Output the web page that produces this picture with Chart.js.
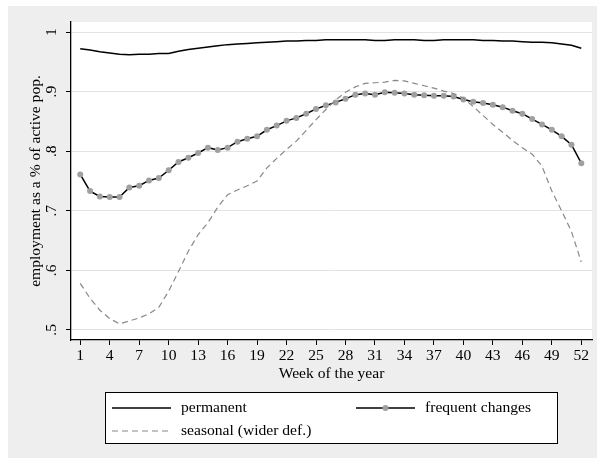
<!DOCTYPE html>
<html>
<head>
<meta charset="utf-8">
<script src="https://cdn.jsdelivr.net/npm/chart.js@4.4.0/dist/chart.umd.min.js"></script>
<style>
html, body { margin: 0; padding: 0; background: #fff; }
#wrap { width: 597px; height: 459px; }
</style>
</head>
<body>
<div id="wrap"><canvas id="chartEmployment"></canvas></div>
<script>
const weeks = [1, 2, 3, 4, 5, 6, 7, 8, 9, 10, 11, 12, 13, 14, 15, 16, 17, 18, 19, 20, 21, 22, 23, 24, 25, 26,
    27, 28, 29, 30, 31, 32, 33, 34, 35, 36, 37, 38, 39, 40, 41, 42, 43, 44, 45, 46, 47, 48, 49, 50, 51, 52];

const permanent = [0.972, 0.970, 0.967, 0.965, 0.963, 0.962, 0.963, 0.963, 0.964, 0.964, 0.968, 0.971, 0.973,
    0.975, 0.977, 0.979, 0.980, 0.981, 0.982, 0.983, 0.984, 0.985, 0.985, 0.986, 0.986, 0.987,
    0.987, 0.987, 0.987, 0.987, 0.986, 0.986, 0.987, 0.987, 0.987, 0.986, 0.986, 0.987, 0.987,
    0.987, 0.987, 0.986, 0.986, 0.985, 0.985, 0.984, 0.983, 0.983, 0.982, 0.980, 0.978, 0.973];

const frequentChanges = [0.761, 0.733, 0.724, 0.723, 0.723, 0.739, 0.742, 0.751, 0.755, 0.768, 0.782, 0.789, 0.797,
    0.806, 0.802, 0.806, 0.816, 0.821, 0.825, 0.836, 0.843, 0.851, 0.856, 0.863, 0.871, 0.877,
    0.882, 0.888, 0.895, 0.897, 0.895, 0.899, 0.898, 0.897, 0.895, 0.894, 0.893, 0.893, 0.892,
    0.887, 0.883, 0.881, 0.878, 0.874, 0.868, 0.863, 0.854, 0.845, 0.836, 0.825, 0.811, 0.780];

const seasonal = [0.578, 0.553, 0.533, 0.519, 0.510, 0.515, 0.520, 0.527, 0.538, 0.565, 0.598, 0.632, 0.660,
    0.680, 0.706, 0.727, 0.735, 0.742, 0.750, 0.772, 0.788, 0.803, 0.817, 0.835, 0.853, 0.870,
    0.886, 0.899, 0.908, 0.914, 0.915, 0.916, 0.919, 0.918, 0.914, 0.910, 0.906, 0.901, 0.897,
    0.889, 0.875, 0.860, 0.845, 0.832, 0.818, 0.806, 0.795, 0.775, 0.733, 0.700, 0.665, 0.614];

const xTicks = [1, 4, 7, 10, 13, 16, 19, 22, 25, 28, 31, 34, 37, 40, 43, 46, 49, 52];
const yTicks = [0.5, 0.6, 0.7, 0.8, 0.9, 1];
const yTickLabels = ['.5', '.6', '.7', '.8', '.9', '1'];

const FONT = '"Liberation Serif", "Times New Roman", serif';
const FONT_SIZE = 15.6;

Chart.defaults.font.family = FONT;
Chart.defaults.font.size = FONT_SIZE;
Chart.defaults.color = '#000';

function toPoints(values) {
    return weeks.map(function (w, i) {
        return { x: w, y: values[i] };
    });
}

// grey page frame and white plot region
const backdrop = {
    id: 'backdrop',
    beforeDraw: function (chart) {
        const ctx = chart.ctx;
        const a = chart.chartArea;
        ctx.save();
        ctx.fillStyle = '#fff';
        ctx.fillRect(0, 0, chart.width, chart.height);
        ctx.fillStyle = '#eeeeee';
        ctx.fillRect(8, 6, chart.width - 8, 452);
        ctx.fillStyle = '#fff';
        ctx.fillRect(a.left, a.top, a.right - a.left, a.bottom - a.top);
        ctx.restore();
    }
};

// boxed two-column legend under the axis
const boxLegend = {
    id: 'boxLegend',
    afterDraw: function (chart) {
        const ctx = chart.ctx;
        ctx.save();
        ctx.fillStyle = '#fff';
        ctx.fillRect(105, 392, 453, 52);
        ctx.strokeStyle = '#000';
        ctx.lineWidth = 1;
        ctx.strokeRect(105.5, 392.5, 452, 51);

        ctx.font = FONT_SIZE + 'px ' + FONT;
        ctx.fillStyle = '#000';
        ctx.textBaseline = 'middle';
        ctx.textAlign = 'left';

        // permanent
        ctx.strokeStyle = '#000';
        ctx.lineWidth = 1.5;
        ctx.beginPath();
        ctx.moveTo(112, 408);
        ctx.lineTo(171, 408);
        ctx.stroke();
        ctx.fillText('permanent', 181, 408);

        // frequent changes
        ctx.beginPath();
        ctx.moveTo(356, 408);
        ctx.lineTo(415, 408);
        ctx.stroke();
        ctx.fillStyle = '#a0a0a0';
        ctx.beginPath();
        ctx.arc(385.5, 408, 3, 0, Math.PI * 2);
        ctx.fill();
        ctx.fillStyle = '#000';
        ctx.fillText('frequent changes', 425, 408);

        // seasonal
        ctx.strokeStyle = '#888';
        ctx.lineWidth = 1.2;
        ctx.setLineDash([6, 4]);
        ctx.beginPath();
        ctx.moveTo(112, 431);
        ctx.lineTo(171, 431);
        ctx.stroke();
        ctx.setLineDash([]);
        ctx.fillText('seasonal (wider def.)', 181, 431);
        ctx.restore();
    }
};

new Chart(document.getElementById('chartEmployment'), {
    type: 'line',
    data: {
        datasets: [
            {
                label: 'seasonal (wider def.)',
                data: toPoints(seasonal),
                borderColor: '#888',
                borderWidth: 1.2,
                borderDash: [6, 4],
                pointRadius: 0,
                fill: false,
                tension: 0,
                order: 1
            },
            {
                label: 'frequent changes',
                data: toPoints(frequentChanges),
                borderColor: '#000',
                borderWidth: 1.5,
                pointRadius: 3,
                pointBackgroundColor: '#a0a0a0',
                pointBorderColor: '#a0a0a0',
                pointBorderWidth: 0,
                fill: false,
                tension: 0,
                order: 2
            },
            {
                label: 'permanent',
                data: toPoints(permanent),
                borderColor: '#000',
                borderWidth: 1.5,
                pointRadius: 0,
                fill: false,
                tension: 0,
                order: 3
            }
        ]
    },
    options: {
        responsive: true,
        maintainAspectRatio: false,
        animation: false,
        events: [],
        layout: {
            padding: { left: 8, right: 5, top: 22, bottom: 76 }
        },
        plugins: {
            legend: { display: false },
            tooltip: { enabled: false }
        },
        scales: {
            x: {
                type: 'linear',
                min: 0.06,
                max: 53.09,
                afterBuildTicks: function (scale) {
                    scale.ticks = xTicks.map(function (v) { return { value: v }; });
                },
                afterFit: function (scale) {
                    scale.height = 43;
                },
                ticks: {
                    autoSkip: false,
                    maxRotation: 0,
                    padding: 2,
                    callback: function (v) { return String(v); }
                },
                grid: {
                    drawOnChartArea: false,
                    drawTicks: true,
                    tickLength: 5,
                    tickColor: '#000',
                    tickWidth: 1
                },
                border: { color: '#000', width: 1.3 },
                title: {
                    display: true,
                    text: 'Week of the year',
                    padding: { top: 0, bottom: 0 }
                }
            },
            y: {
                min: 0.483,
                max: 1.017,
                afterBuildTicks: function (scale) {
                    scale.ticks = yTicks.map(function (v) { return { value: v }; });
                },
                afterFit: function (scale) {
                    scale.width = 63;
                },
                ticks: {
                    minRotation: 90,
                    maxRotation: 90,
                    crossAlign: 'center',
                    padding: 8,
                    callback: function (v, i) { return yTickLabels[i]; }
                },
                grid: {
                    color: '#e3e3e3',
                    lineWidth: 1,
                    drawTicks: true,
                    tickLength: 5,
                    tickColor: '#000',
                    tickWidth: 1
                },
                border: { color: '#000', width: 1.3 },
                title: {
                    display: true,
                    text: 'employment as a % of active pop.',
                    padding: { top: 19, bottom: 0 }
                }
            }
        }
    },
    plugins: [backdrop, boxLegend]
});
</script>
</body>
</html>
